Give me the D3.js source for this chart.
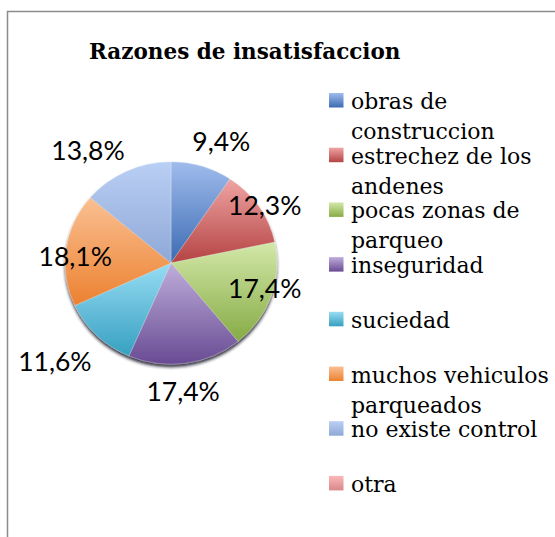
<!DOCTYPE html>
<html>
<head>
<meta charset="utf-8">
<script src="https://cdn.jsdelivr.net/npm/d3@7"></script>
<style>
  html, body { margin: 0; padding: 0; background: #fff; }
  svg { display: block; }
</style>
</head>
<body>
<svg id="chart" width="555" height="537"></svg>
<script>
// Survey results: reasons for dissatisfaction (percent of answers)
const categories = [
  "obras de construccion",
  "estrechez de los andenes",
  "pocas zonas de parqueo",
  "inseguridad",
  "suciedad",
  "muchos vehiculos parqueados",
  "no existe control",
  "otra"
];
const values = [9.4, 12.3, 17.4, 17.4, 11.6, 18.1, 13.8, 0];
const chartTitle = "Razones de insatisfaccion";

// Two-stop fills (light top, dark bottom) for each slice
const lightColors = ["#a0bcec", "#eea4a3", "#d3e8a9", "#bfaedb", "#97dcf4", "#fac093", "#bacff4", "#fbb8b8"];
const darkColors  = ["#3b6bb2", "#b54343", "#86ab45", "#684b93", "#36a0c0", "#ec8130", "#8ea8d6", "#d98888"];

// Label placement: distance from centre and angular nudge (degrees)
const labelPlace = [[132, 5.5], [110, 2.5], [97, -4.5], [129, 2.5], [152, 5.5], [96, -3.5], [140, -11.5], [120, 0]];

const W = 555, H = 537;
const cx = 171, cy = 263, r = 106, squash = 0.955;
const svg = d3.select("#chart");
const defs = svg.append("defs");

// frame
svg.append("rect")
  .attr("x", 7.5).attr("y", 11.5)
  .attr("width", W + 20).attr("height", H + 20)
  .attr("fill", "#fff").attr("stroke", "#8c8c8c").attr("stroke-width", 1.5);

// title
svg.append("text")
  .attr("x", 89).attr("y", 59)
  .attr("font-family", "'DejaVu Serif', serif")
  .attr("font-weight", "bold")
  .attr("font-size", 21.5)
  .attr("fill", "#000")
  .text(chartTitle);

// gradients
categories.forEach((c, i) => {
  const g = defs.append("linearGradient")
    .attr("id", "grad" + i)
    .attr("x1", 0).attr("y1", 0).attr("x2", 0).attr("y2", 1);
  g.append("stop").attr("offset", "0%").attr("stop-color", lightColors[i]);
  g.append("stop").attr("offset", "100%").attr("stop-color", darkColors[i]);
});

const shadow = defs.append("filter").attr("id", "pieShadow")
  .attr("x", "-20%").attr("y", "-20%").attr("width", "140%").attr("height", "140%");
shadow.append("feDropShadow")
  .attr("dx", 0).attr("dy", 3).attr("stdDeviation", 1.4)
  .attr("flood-color", "#15152a").attr("flood-opacity", 0.85);

const pie = d3.pie().sort(null).value(d => d)(values);
const arc = d3.arc().innerRadius(0).outerRadius(r);

const pieG = svg.append("g")
  .attr("transform", `translate(${cx},${cy}) scale(1,${squash})`)
  .attr("filter", "url(#pieShadow)");

pieG.selectAll("path")
  .data(pie.filter(d => d.value > 0))
  .join("path")
  .attr("d", arc)
  .attr("fill", d => `url(#grad${d.index})`)
  .attr("stroke", "rgba(255,255,255,0.45)")
  .attr("stroke-width", 0.6);

// data labels
const fmt = v => d3.format(".1f")(v).replace(".", ",") + "%";
svg.append("g").selectAll("text")
  .data(pie.filter(d => d.value > 0))
  .join("text")
  .attr("x", d => {
    const [dist, nudge] = labelPlace[d.index];
    const a = (d.startAngle + d.endAngle) / 2 + nudge * Math.PI / 180;
    return cx + dist * Math.sin(a);
  })
  .attr("y", d => {
    const [dist, nudge] = labelPlace[d.index];
    const a = (d.startAngle + d.endAngle) / 2 + nudge * Math.PI / 180;
    return cy - dist * Math.cos(a);
  })
  .attr("text-anchor", "middle")
  .attr("dominant-baseline", "central")
  .attr("font-family", "Lato, sans-serif")
  .attr("font-size", 26.5)
  .attr("fill", "#000")
  .text(d => fmt(d.value));

// legend
const legX = 329, legY0 = 109, legStep = 54.7, lineH = 30, maxW = 215;
const legend = svg.append("g");
categories.forEach((c, i) => {
  const y = legY0 + i * legStep;
  legend.append("rect")
    .attr("x", legX).attr("y", y - 16)
    .attr("width", 14.5).attr("height", 14.5)
    .attr("fill", `url(#grad${i})`);
  const t = legend.append("text")
    .attr("x", legX + 22).attr("y", y)
    .attr("font-family", "'DejaVu Serif', serif")
    .attr("font-size", 22)
    .attr("fill", "#000");
  // greedy word wrap to the legend width
  const words = c.split(" ");
  let line = [], lineNo = 0;
  let ts = t.append("tspan").attr("x", legX + 22).attr("y", y);
  words.forEach(w => {
    line.push(w);
    ts.text(line.join(" "));
    if (ts.node().getComputedTextLength() > maxW && line.length > 1) {
      line.pop();
      ts.text(line.join(" "));
      line = [w];
      lineNo++;
      ts = t.append("tspan").attr("x", legX + 22).attr("y", y + lineNo * lineH).text(w);
    }
  });
});
</script>
</body>
</html>
